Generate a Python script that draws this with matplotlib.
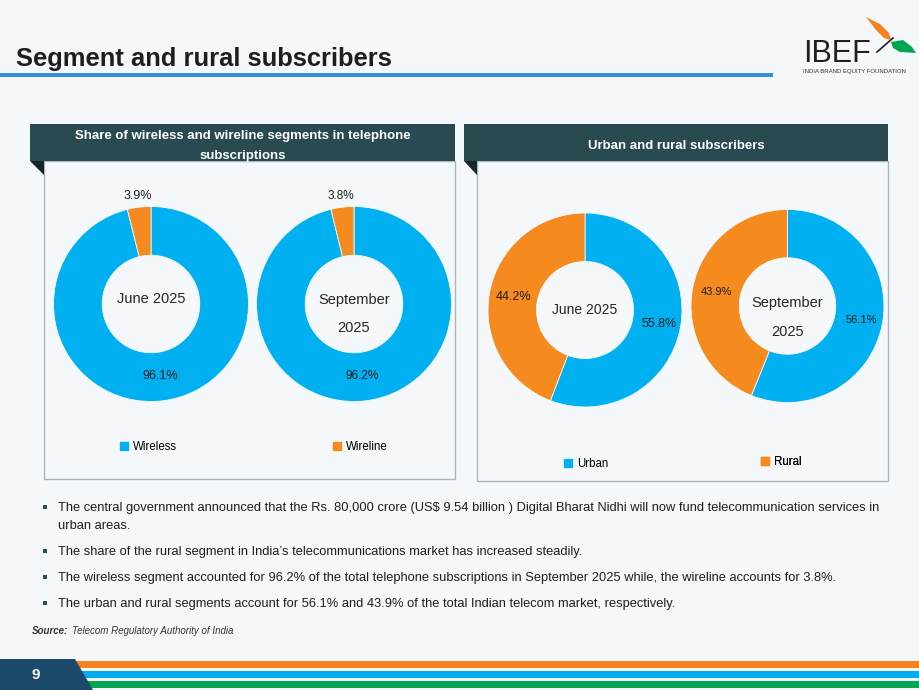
import matplotlib
matplotlib.use("Agg")
import matplotlib.pyplot as plt
import numpy as np
from matplotlib.patches import Rectangle, Polygon, Patch

plt.rcParams['font.family'] = ['Liberation Sans', 'DejaVu Sans']

# data
periods = ['June 2025', 'September\n2025']
wireless_share = [96.1, 96.2]
wireline_share = [3.9, 3.8]
urban_share = [55.8, 56.1]
rural_share = [44.2, 43.9]
segment_labels = ['Wireless', 'Wireline']
area_labels = ['Urban', 'Rural']

bullets = [
    ["The central government announced that the Rs. 80,000 crore (US$ 9.54 billion ) Digital Bharat Nidhi will now fund telecommunication services in",
     "urban areas."],
    ["The share of the rural segment in India\u2019s telecommunications market has increased steadily."],
    ["The wireless segment accounted for 96.2% of the total telephone subscriptions in September 2025 while, the wireline accounts for 3.8%."],
    ["The urban and rural segments account for 56.1% and 43.9% of the total Indian telecom market, respectively."],
]

BLUE = '#00B0F0'
ORANGE = '#F58A1F'
HEADER = '#2A4A52'
BG = '#F4F8FA'
W, H = 920, 690

fig = plt.figure(figsize=(9.2, 6.9), dpi=100, facecolor=BG)
bg = fig.add_axes([0, 0, 1, 1])
bg.set_xlim(0, W)
bg.set_ylim(H, 0)
bg.axis('off')

# title and rule
bg.text(16, 59, "Segment and rural subscribers", fontsize=18.4, fontweight='bold',
        color='#1E1E1E', va='center', ha='left')
bg.add_patch(Rectangle((0, 73), 773, 4, color='#3B8ED0', lw=0))

# IBEF logo
bg.text(803, 54, "IBEF", fontsize=22, color='#231F20', va='center', ha='left')
bg.text(803, 72, "INDIA BRAND EQUITY FOUNDATION", fontsize=4.3, color='#333333',
        va='center', ha='left')
bg.add_patch(Polygon([(866, 17), (880, 24), (889, 33), (891, 40), (884, 38), (876, 30)],
                     color='#F58220', lw=0))
bg.add_patch(Polygon([(891, 42), (903, 40), (912, 47), (916, 53), (900, 52), (893, 48)],
                     color='#00A651', lw=0))
bg.plot([877, 893], [52, 38], color='#231F20', lw=1.2)

# panels
panels = [
    (30, 44, 455, 479, "Share of wireless and wireline segments in telephone\nsubscriptions"),
    (464, 477, 888, 481, "Urban and rural subscribers"),
]
for hx, bx, rx, by, title in panels:
    bg.add_patch(Rectangle((bx, 161), rx - bx, by - 161, fill=False, ec='#A8B6BD', lw=1))
    bg.add_patch(Rectangle((hx, 124), rx - hx, 37, color=HEADER, lw=0))
    bg.add_patch(Polygon([(hx, 161), (bx, 161), (bx, 175)], color='#15252A', lw=0))
    bg.text((hx + rx) / 2, 146, title, color='white', fontsize=9.5, fontweight='bold',
            ha='center', va='center', linespacing=1.8)


def donut(cx, cy, r, values, label_r, center_text, label_sizes, center_size, center_dy):
    ax = fig.add_axes([(cx - r) / W, 1 - (cy + r) / H, 2 * r / W, 2 * r / H])
    ax.set_facecolor('none')
    wedges, _ = ax.pie(values, colors=[BLUE, ORANGE], startangle=90, counterclock=False,
                       radius=1, wedgeprops=dict(width=0.5, edgecolor=BG, linewidth=0.6))
    ax.set_xlim(-1, 1)
    ax.set_ylim(-1, 1)
    for w, v, lr, fs in zip(wedges, values, label_r, label_sizes):
        mid = np.deg2rad((w.theta1 + w.theta2) / 2)
        ax.text(lr * np.cos(mid), lr * np.sin(mid), f"{v}%", ha='center', va='center',
                fontsize=fs, color='#1E1E1E')
    ax.text(0, center_dy, center_text, ha='center', va='center', fontsize=center_size,
            color='#262626', linespacing=2.3)
    return ax


donut(151, 304, 97.5, [wireless_share[0], wireline_share[0]], [0.74, 1.12], periods[0],
      [9, 9], 10.5, 0.05)
donut(354, 304, 97.5, [wireless_share[1], wireline_share[1]], [0.74, 1.12], periods[1],
      [8.5, 8.5], 10.5, -0.1)
donut(585, 310, 97, [urban_share[0], rural_share[0]], [0.78, 0.75], periods[0],
      [9, 9], 10, 0.0)
donut(787.5, 306, 96.5, [urban_share[1], rural_share[1]], [0.78, 0.75], periods[1],
      [8, 8], 10.5, -0.12)

# legends, one entry each so every marker sits where the reference has it
for labels, xs, ys_ in [(segment_labels, [123, 336], [447, 447]),
                        (area_labels, [567, 764], [464, 462])]:
    for lab, x, y, c in zip(labels, xs, ys_, [BLUE, ORANGE]):
        leg = bg.legend(handles=[Patch(color=c, label=lab)], frameon=False, fontsize=8.3,
                        handlelength=0.7, handleheight=0.7, handletextpad=0.4,
                        loc='center left', bbox_to_anchor=((x - 13) / W, 1 - y / H))
        bg.add_artist(leg)

# bullets
ys = [508, 552, 578, 604]
for y, lines in zip(ys, bullets):
    bg.scatter([45], [y - 1], marker='s', s=9, color='#2F5050', lw=0)
    for i, t in enumerate(lines):
        bg.text(58, y + 18 * i, t, fontsize=9.3, color='#1E1E1E', va='center', ha='left')

bg.text(32, 631, "Source:", fontsize=7, fontweight='bold', style='italic', color='#333333',
        va='center', ha='left')
bg.text(72, 631, "Telecom Regulatory Authority of India", fontsize=7, style='italic',
        color='#333333', va='center', ha='left')

# footer
bg.add_patch(Rectangle((70, 661), 850, 7, color='#F58220', lw=0))
bg.add_patch(Rectangle((75, 671), 845, 7, color='#00AEEF', lw=0))
bg.add_patch(Rectangle((80, 681), 840, 7, color='#00A651', lw=0))
bg.add_patch(Polygon([(0, 659), (75, 659), (93, 690), (0, 690)], color='#1B4A6B', lw=0))
bg.text(36, 675, "9", color='white', fontsize=11, fontweight='bold', ha='center', va='center')

fig.savefig("out.png", dpi=100, facecolor=BG)
